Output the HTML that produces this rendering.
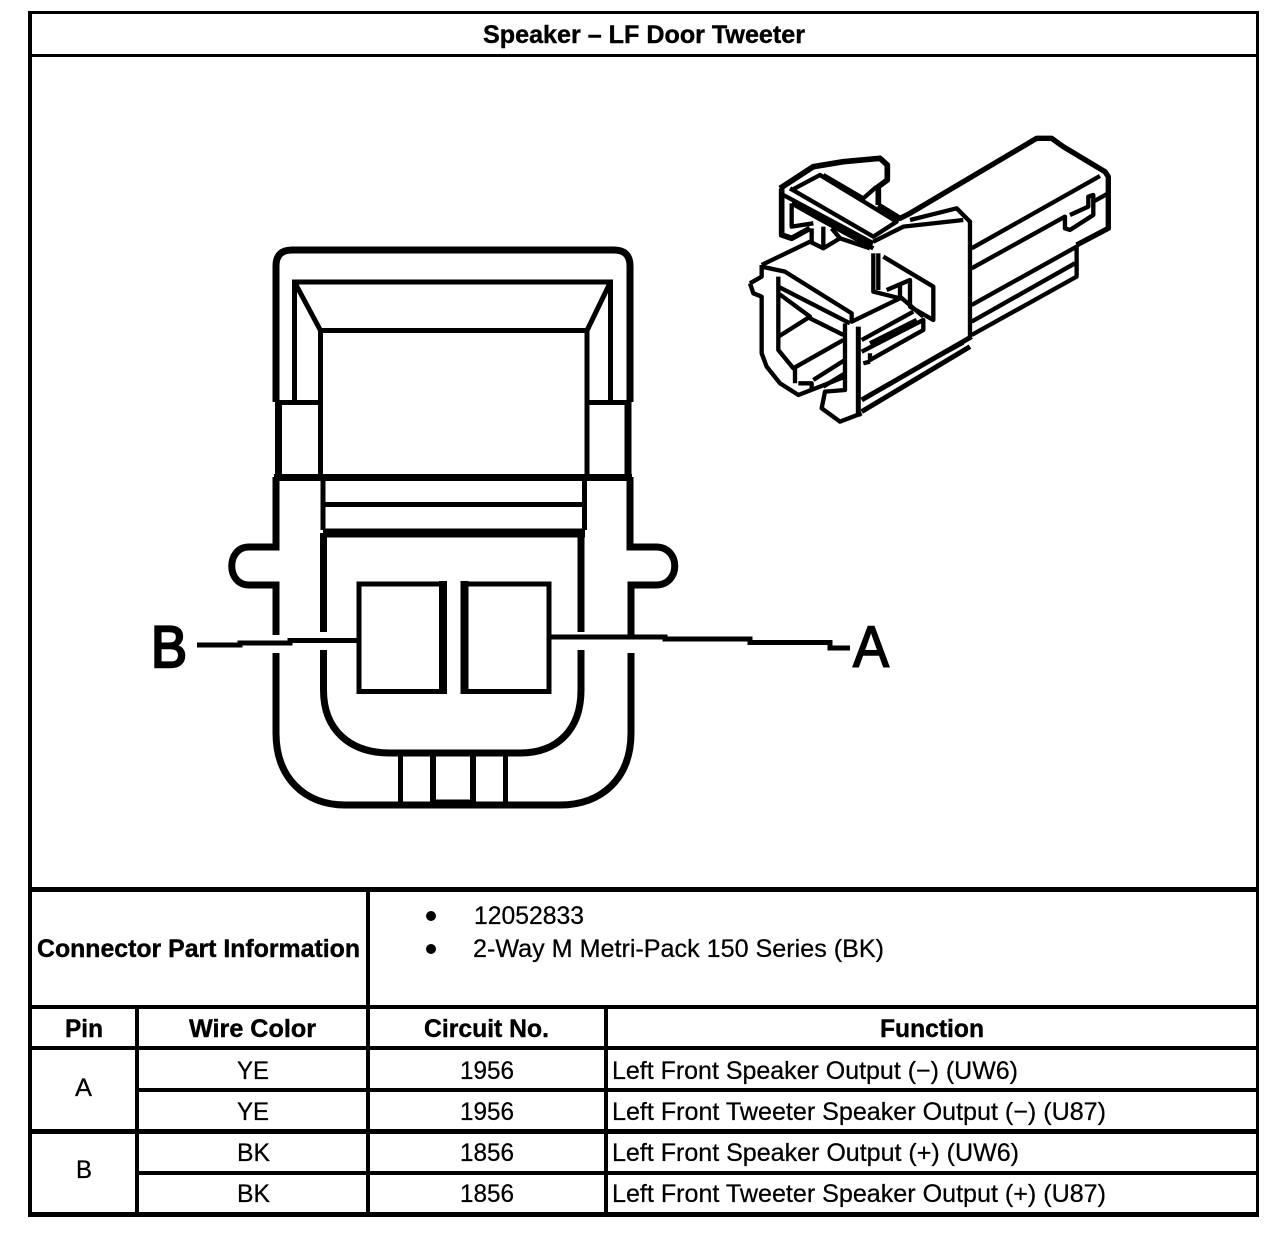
<!DOCTYPE html>
<html><head><meta charset="utf-8"><style>
html,body{margin:0;padding:0;background:#fff;width:1280px;height:1236px;overflow:hidden}
svg{display:block}
text{font-family:"Liberation Sans",sans-serif;font-size:25px;fill:#000;stroke:#000;stroke-width:.25}
.b{font-weight:bold;stroke-width:.4}
</style></head><body>
<svg width="1280" height="1236" viewBox="0 0 1280 1236" xmlns="http://www.w3.org/2000/svg">
<rect width="1280" height="1236" fill="#fff"/>
<!-- table grid -->
<g fill="#000" shape-rendering="crispEdges">
<rect x="28" y="11" width="1231" height="3"/>
<rect x="28" y="54" width="1231" height="3"/>
<rect x="28" y="887" width="1231" height="5"/>
<rect x="28" y="1005" width="1231" height="4"/>
<rect x="28" y="1046" width="1231" height="4"/>
<rect x="137" y="1088" width="1122" height="4"/>
<rect x="28" y="1129" width="1231" height="5"/>
<rect x="137" y="1171" width="1122" height="4"/>
<rect x="28" y="1212" width="1231" height="5"/>
<rect x="28" y="11" width="4" height="1206"/>
<rect x="1256" y="11" width="3" height="1206"/>
<rect x="366" y="887" width="4" height="330"/>
<rect x="135" y="1005" width="4" height="212"/>
<rect x="604" y="1005" width="4" height="212"/>
</g>
<!-- front view -->
<g fill="none" stroke="#000" stroke-linejoin="miter">
<path stroke-width="7" d="M276 402V266Q276 250 292 250H614Q630 250 630 266V402"/>
<path stroke-width="7" d="M278.5 402V477M628 402V477"/>
<path stroke-width="5" d="M294.5 402V282H610.5V402M320.5 477V330.500H587M294.500 282L320.500 330.500M610.500 282L587 330.500M587 330.500V477M276 402.500H320.500M587 402.500H630"/>
<path stroke-width="7" d="M274 477.500H632"/>
<path stroke-width="7" d="M276 477V547H249C226 547 226 585 249 585H276V635M276 653V733C276 778 305 805 345 805H560C602 805 631 778 631 733V653M631 635V585H656C681 585 681 547 656 547H630V477"/>
<path stroke-width="5" d="M323 480V530M584.500 480V530M323 504.500H584"/>
<path stroke-width="9" d="M323 533H585"/>
<path stroke-width="7" d="M323.500 533V632M323.500 650V690C323.500 730 350 753 390 753H520C557 753 581 730 581 690V650M581 632V533"/>
<rect x="359" y="584" width="84" height="107.500" stroke-width="5"/>
<path stroke-width="8" d="M443 581V694"/>
<rect x="464.500" y="584" width="84.500" height="107.500" stroke-width="5"/>
<path stroke-width="8" d="M464.500 581V694"/>
<path stroke-width="5" d="M400.500 753V803M505.500 753V803"/>
<path stroke-width="6" d="M433 753V805M473 753V805"/>
<path stroke-width="5" d="M433 802H473"/>
<path stroke-width="5" d="M197 645H240V643H290V640.500H358"/>
<path stroke-width="5" d="M551 637H665V639H750V642.500H830V648H850"/>
</g>
<!-- isometric view -->
<g transform="translate(730,120) scale(.3333)" fill="none" stroke="#000" stroke-width="13" stroke-linejoin="round">
<path stroke-width="16" d="M445 255L510 295L540 280L920 55H965L1000 80L1125 155L1135 170V325L1040 375"/>
<path d="M725 385L1110 168M725 445L1005 290V325L1020 330L1090 285V225L1075 230V260L1020 285M1090 245L1135 220"/>
<path d="M725 555L1040 380V470L725 645M725 605L1035 430"/>
<path stroke-width="15" d="M395 840L725 650M395 875L720 680"/>
<path stroke-width="9" d="M415 825L700 670"/>
<path d="M430 365L520 320L700 300M540 300L680 265L720 305V650"/>
<path stroke-width="17" d="M150 205L250 140L340 125L450 115L472 135V180L445 200V255"/>
<path stroke-width="17" d="M155 205V345L185 355L240 325"/>
<path d="M185 210L270 165L500 305L430 350L180 205M280 165L400 235L440 200"/>
<path d="M185 250V320L250 310M185 250L265 295L430 385M160 225L430 370"/>
<path d="M245 365V325M280 385V320M330 355L305 325"/>
<path d="M95 435L240 365L280 385L330 355L420 385"/>
<path d="M95 440L165 455L365 580V605L510 535L430 515V400"/>
<path d="M445 400V510"/>
<path d="M60 490L95 470V435M60 490L70 520L95 530V700L110 740L150 790L205 825L270 800L345 770"/>
<path d="M145 470V690L190 745L340 660M145 500L360 610"/>
<path d="M145 520L240 590L145 650M240 595L340 645"/>
<path d="M205 790H245V810M195 745V790M280 800L345 760M250 780L345 720"/>
<path d="M460 410L610 500V600L540 560V480L470 510"/>
<path d="M510 490V530L580 590"/>
<path d="M345 610V810L285 815L275 865L330 905L395 880"/>
<path stroke-width="15" d="M385 620V890"/>
<path d="M395 660L550 575M395 695L580 600V630L420 720V700"/>
<path d="M420 670L560 600M400 730L420 725"/>
</g>
<!-- letters -->
<text x="151" y="667" style="font-size:58px;stroke-width:2.4" textLength="36" lengthAdjust="spacingAndGlyphs">B</text>
<text x="853" y="667" style="font-size:58px;stroke-width:1.6" textLength="36" lengthAdjust="spacingAndGlyphs">A</text>
<!-- table text -->
<text class="b" x="483" y="43" textLength="322" lengthAdjust="spacingAndGlyphs">Speaker – LF Door Tweeter</text>
<text class="b" x="37" y="957" textLength="323" lengthAdjust="spacingAndGlyphs">Connector Part Information</text>
<circle cx="431" cy="916" r="5"/><circle cx="431" cy="949" r="5"/>
<text x="474" y="924" textLength="110" lengthAdjust="spacingAndGlyphs">12052833</text>
<text x="473" y="957" textLength="411" lengthAdjust="spacingAndGlyphs">2-Way M Metri-Pack 150 Series (BK)</text>
<text class="b" x="65" y="1037" textLength="38" lengthAdjust="spacingAndGlyphs">Pin</text>
<text class="b" x="189" y="1037" textLength="127" lengthAdjust="spacingAndGlyphs">Wire Color</text>
<text class="b" x="424" y="1037" textLength="125" lengthAdjust="spacingAndGlyphs">Circuit No.</text>
<text class="b" x="880" y="1037" textLength="104" lengthAdjust="spacingAndGlyphs">Function</text>
<text x="75" y="1096" textLength="17" lengthAdjust="spacingAndGlyphs">A</text>
<text x="76" y="1178" textLength="16" lengthAdjust="spacingAndGlyphs">B</text>
<text x="237" y="1079" textLength="32" lengthAdjust="spacingAndGlyphs">YE</text>
<text x="237" y="1120" textLength="32" lengthAdjust="spacingAndGlyphs">YE</text>
<text x="237" y="1161" textLength="33" lengthAdjust="spacingAndGlyphs">BK</text>
<text x="237" y="1202" textLength="33" lengthAdjust="spacingAndGlyphs">BK</text>
<text x="460" y="1079" textLength="54" lengthAdjust="spacingAndGlyphs">1956</text>
<text x="460" y="1120" textLength="54" lengthAdjust="spacingAndGlyphs">1956</text>
<text x="460" y="1161" textLength="54" lengthAdjust="spacingAndGlyphs">1856</text>
<text x="460" y="1202" textLength="54" lengthAdjust="spacingAndGlyphs">1856</text>
<text x="612" y="1079" textLength="406" lengthAdjust="spacingAndGlyphs">Left Front Speaker Output (−) (UW6)</text>
<text x="612" y="1120" textLength="494" lengthAdjust="spacingAndGlyphs">Left Front Tweeter Speaker Output (−) (U87)</text>
<text x="612" y="1161" textLength="407" lengthAdjust="spacingAndGlyphs">Left Front Speaker Output (+) (UW6)</text>
<text x="612" y="1202" textLength="494" lengthAdjust="spacingAndGlyphs">Left Front Tweeter Speaker Output (+) (U87)</text>
</svg>
</body></html>
